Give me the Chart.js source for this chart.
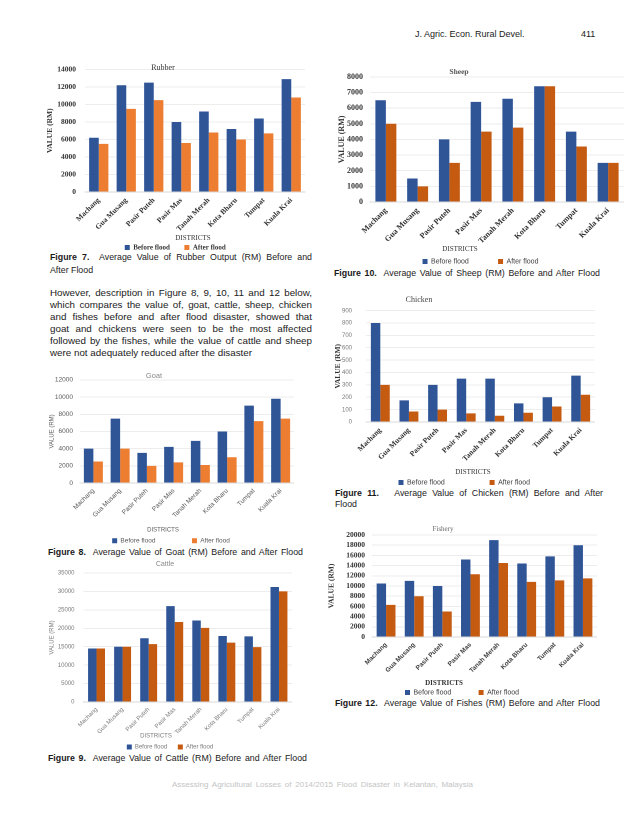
<!DOCTYPE html>
<html><head><meta charset="utf-8">
<script src="https://cdn.jsdelivr.net/npm/chart.js@4.4.1/dist/chart.umd.min.js"></script>
<style>
html,body{margin:0;padding:0;background:#fff;}
#page{position:relative;width:638px;height:826px;overflow:hidden;font-family:"Liberation Sans",Arial,sans-serif;color:#1a1a1a;}
canvas{position:absolute;}
.ln{position:absolute;white-space:nowrap;text-align:justify;text-align-last:justify;}
.ln.l{text-align-last:left;}
.cap{font-size:8.8px;line-height:11px;}
.par{font-size:9.8px;line-height:12px;}
b{font-weight:bold;}
</style></head>
<body><div id="page">
<div class="ln l" style="left:415px;top:28px;font-size:9px;line-height:12px;">J. Agric. Econ. Rural Devel.</div>
<div class="ln l" style="left:581px;top:28px;font-size:9px;line-height:12px;">411</div>

<div class="ln cap" style="left:50px;top:252px;width:262px;"><b>Figure 7.</b>&nbsp; Average Value of Rubber Output (RM) Before and</div>
<div class="ln cap l" style="left:50px;top:265px;width:262px;">After Flood</div>

<div class="ln par" style="left:50px;top:287px;width:262px;">However, description in Figure 8, 9, 10, 11 and 12 below,</div>
<div class="ln par" style="left:50px;top:299px;width:262px;">which compares the value of, goat, cattle, sheep, chicken</div>
<div class="ln par" style="left:50px;top:311px;width:262px;">and fishes before and after flood disaster, showed that</div>
<div class="ln par" style="left:50px;top:323px;width:262px;">goat and chickens were seen to be the most affected</div>
<div class="ln par" style="left:50px;top:335px;width:262px;">followed by the fishes, while the value of cattle and sheep</div>
<div class="ln par l" style="left:50px;top:347px;width:262px;">were not adequately reduced after the disaster</div>

<div class="ln cap" style="left:48px;top:547px;width:255px;"><b>Figure 8.</b>&nbsp; Average Value of Goat (RM) Before and After Flood</div>
<div class="ln cap" style="left:48px;top:753px;width:259px;"><b>Figure 9.</b>&nbsp; Average Value of Cattle (RM) Before and After Flood</div>
<div class="ln cap" style="left:334px;top:268px;width:266px;"><b>Figure 10.</b>&nbsp; Average Value of Sheep (RM) Before and After Flood</div>
<div class="ln cap" style="left:335px;top:488px;width:268px;"><b>Figure 11.</b>&nbsp;&nbsp; Average Value of Chicken (RM) Before and After</div>
<div class="ln cap l" style="left:335px;top:499px;width:268px;">Flood</div>
<div class="ln cap" style="left:335px;top:698px;width:265px;"><b>Figure 12.</b>&nbsp; Average Value of Fishes (RM) Before and After Flood</div>

<div class="ln" style="left:172px;top:780px;width:301px;font-size:8px;line-height:10px;color:#c4c4c4;">Assessing Agricultural Losses of 2014/2015 Flood Disaster in Kelantan, Malaysia</div>
</div>
<script>
// ---- data ----
const districts = ['Machang','Gua Musang','Pasir Puteh','Pasir Mas','Tanah Merah','Kota Bharu','Tumpat','Kuala Krai'];
const seriesNames = ['Before flood','After flood'];
const rubberBefore = [6200,12200,12500,8000,9200,7200,8400,12900];
const rubberAfter  = [5500,9500,10500,5600,6800,6000,6700,10800];
const goatBefore   = [4000,7500,3500,4200,4900,6000,9000,9800];
const goatAfter    = [2500,4000,2000,2400,2100,3000,7200,7500];
const cattleBefore = [14500,15000,17300,26000,22100,17900,17800,31200];
const cattleAfter  = [14500,15000,15700,21700,20100,16100,14900,30000];
const sheepBefore  = [6500,1500,4000,6400,6600,7400,4500,2500];
const sheepAfter   = [5000,1000,2500,4500,4750,7400,3550,2500];
const chickenBefore= [800,175,300,350,350,150,200,375];
const chickenAfter = [300,85,100,70,50,75,125,220];
const fisheryBefore= [10500,11000,10000,15200,19000,14400,15800,18000];
const fisheryAfter = [6300,8000,5000,12300,14500,10800,11100,11500];

const BLUE = '#2F5597', ORANGE = '#ED7D31', DORANGE = '#C55A11';
const SERIF = '"Liberation Serif","Times New Roman",serif';
const SANS = '"Liberation Sans",Arial,sans-serif';

const annot = {
  id: 'annot',
  afterDraw(chart, args, o) {
    const ctx = chart.ctx;
    ctx.save();
    ctx.textAlign = 'center';
    ctx.textBaseline = 'middle';
    (o.items || []).forEach(it => {
      ctx.font = it.font;
      ctx.fillStyle = it.color;
      ctx.fillText(it.text, it.x - o.L, it.y - o.T);
    });
    ctx.restore();
  }
};

function makeChart(c) {
  const cv = document.createElement('canvas');
  cv.width = c.W; cv.height = c.H;
  cv.style.left = c.L + 'px'; cv.style.top = c.T + 'px';
  cv.style.width = c.W + 'px'; cv.style.height = c.H + 'px';
  document.getElementById('page').appendChild(cv);
  const gap = '\u00A0'.repeat(c.legGap);
  new Chart(cv, {
    type: 'bar',
    data: {
      labels: districts,
      datasets: [
        {label: seriesNames[0], data: c.before, backgroundColor: BLUE},
        {label: seriesNames[1], data: c.after, backgroundColor: c.orange}
      ]
    },
    options: {
      responsive: false, animation: false, devicePixelRatio: 2,
      layout: {padding: {left: c.padL, top: c.padT, right: c.padR, bottom: 0}},
      datasets: {bar: {categoryPercentage: c.cat, barPercentage: 1}},
      scales: {
        x: {
          grid: {display: false, drawTicks: false},
          border: {display: true, color: '#d9d9d9'},
          ticks: {minRotation: 45, maxRotation: 45, autoSkip: false, padding: 4, font: c.xFont, color: c.xColor},
          afterFit: s => { s.height = c.xH; }
        },
        y: {
          min: 0, max: c.max,
          ticks: {stepSize: c.step, autoSkip: false, padding: c.yPad, font: c.yFont, color: c.yColor, callback: v => String(v)},
          grid: {color: '#ededed', drawTicks: false},
          border: {display: false},
          title: {display: true, text: 'VALUE (RM)', font: c.yTitleFont, color: c.yTitleColor, padding: 0},
          afterFit: s => { s.width = c.yW; }
        }
      },
      plugins: {
        legend: {position: 'bottom', labels: {boxWidth: 5, boxHeight: 5, padding: 4, font: c.legFont, color: c.legColor,
          generateLabels: ch => {
            const items = Chart.defaults.plugins.legend.labels.generateLabels(ch);
            items[0].text = items[0].text + gap;
            return items;
          }}},
        tooltip: {enabled: false},
        annot: {L: c.L, T: c.T, items: [
          {text: c.title, x: c.tx, y: c.ty, font: c.titleFont, color: c.titleColor},
          {text: 'DISTRICTS', x: c.dx, y: c.dy, font: c.dFont, color: c.dColor}
        ]}
      }
    },
    plugins: [annot]
  });
}

// Rubber
makeChart({before: rubberBefore, after: rubberAfter, orange: ORANGE,
  L: 44, T: 56, W: 262, H: 205, padL: 1.5, padT: 12, padR: 1, yW: 39.5, xH: 48, legGap: 6, cat: 0.7,
  max: 14000, step: 2000, yPad: 9,
  yFont: {family: SERIF, size: 7.5, weight: 'bold'}, yColor: '#333',
  xFont: {family: SERIF, size: 7.5, weight: 'bold'}, xColor: '#333',
  yTitleFont: {family: SERIF, size: 7.5, weight: 'bold'}, yTitleColor: '#333',
  legFont: {family: SERIF, size: 7, weight: 'bold'}, legColor: '#333',
  title: 'Rubber', tx: 163, ty: 68, titleFont: '8px ' + SERIF, titleColor: '#333',
  dx: 193, dy: 238, dFont: '7px ' + SERIF, dColor: '#333'});

// Goat
makeChart({before: goatBefore, after: goatAfter, orange: ORANGE,
  L: 26, T: 369, W: 268, H: 185, padL: 22, padT: 10, padR: 0, yW: 32, xH: 50.5, legGap: 18, cat: 0.71,
  max: 12000, step: 2000, yPad: 7,
  yFont: {family: SANS, size: 6.5}, yColor: '#595959',
  xFont: {family: SANS, size: 6.5}, xColor: '#595959',
  yTitleFont: {family: SANS, size: 6}, yTitleColor: '#595959',
  legFont: {family: SANS, size: 6.5}, legColor: '#595959',
  title: 'Goat', tx: 154, ty: 376, titleFont: '7.5px ' + SANS, titleColor: '#8a8a8a',
  dx: 163, dy: 530, dFont: '6px ' + SANS, dColor: '#595959'});

// Cattle
makeChart({before: cattleBefore, after: cattleAfter, orange: DORANGE,
  L: 48, T: 559, W: 244, H: 201, padL: 0, padT: 14, padR: 0, yW: 35.5, xH: 38, legGap: 4, cat: 0.65,
  max: 35000, step: 5000, yPad: 9,
  yFont: {family: SANS, size: 6}, yColor: '#7a7a7a',
  xFont: {family: SANS, size: 6}, xColor: '#7a7a7a',
  yTitleFont: {family: SANS, size: 6}, yTitleColor: '#7a7a7a',
  legFont: {family: SANS, size: 6}, legColor: '#7a7a7a',
  title: 'Cattle', tx: 165, ty: 564, titleFont: '7px ' + SANS, titleColor: '#8a8a8a',
  dx: 156, dy: 736, dFont: '6px ' + SANS, dColor: '#7a7a7a'});

// Sheep
makeChart({before: sheepBefore, after: sheepAfter, orange: DORANGE,
  L: 316, T: 65, W: 308, H: 210, padL: 21, padT: 10, padR: 0, yW: 33, xH: 52, legGap: 13, cat: 0.66,
  max: 8000, step: 1000, yPad: 7,
  yFont: {family: SERIF, size: 8, weight: 'bold'}, yColor: '#333',
  xFont: {family: SERIF, size: 8, weight: 'bold'}, xColor: '#333',
  yTitleFont: {family: SERIF, size: 8, weight: 'bold'}, yTitleColor: '#333',
  legFont: {family: SANS, size: 7}, legColor: '#404040',
  title: 'Sheep', tx: 459, ty: 72, titleFont: 'bold 7.5px ' + SERIF, titleColor: '#555',
  dx: 460, dy: 249, dFont: '7px ' + SERIF, dColor: '#333'});

// Chicken
makeChart({before: chickenBefore, after: chickenAfter, orange: DORANGE,
  L: 332, T: 293, W: 263, H: 203, padL: 1.5, padT: 10, padR: 0, yW: 32.5, xH: 53, legGap: 21, cat: 0.66,
  max: 900, step: 100, yPad: 14,
  yFont: {family: SANS, size: 6}, yColor: '#777',
  xFont: {family: SERIF, size: 7.5, weight: 'bold'}, xColor: '#333',
  yTitleFont: {family: SERIF, size: 7.5, weight: 'bold'}, yTitleColor: '#333',
  legFont: {family: SANS, size: 7}, legColor: '#404040',
  title: 'Chicken', tx: 419, ty: 300, titleFont: '8px ' + SERIF, titleColor: '#444',
  dx: 473, dy: 472, dFont: '7px ' + SERIF, dColor: '#333'});

// Fishery
makeChart({before: fisheryBefore, after: fisheryAfter, orange: DORANGE,
  L: 319, T: 521, W: 278, H: 185, padL: 8, padT: 14, padR: 0, yW: 45, xH: 48, legGap: 12, cat: 0.67,
  max: 20000, step: 2000, yPad: 7,
  yFont: {family: SERIF, size: 7.5, weight: 'bold'}, yColor: '#333',
  xFont: {family: SANS, size: 6.5, weight: 'bold'}, xColor: '#404040',
  yTitleFont: {family: SERIF, size: 7.5, weight: 'bold'}, yTitleColor: '#333',
  legFont: {family: SANS, size: 7}, legColor: '#404040',
  title: 'Fishery', tx: 443, ty: 529, titleFont: '7px ' + SERIF, titleColor: '#666',
  dx: 444, dy: 683, dFont: 'bold 7px ' + SERIF, dColor: '#333'});
</script>
</body></html>
